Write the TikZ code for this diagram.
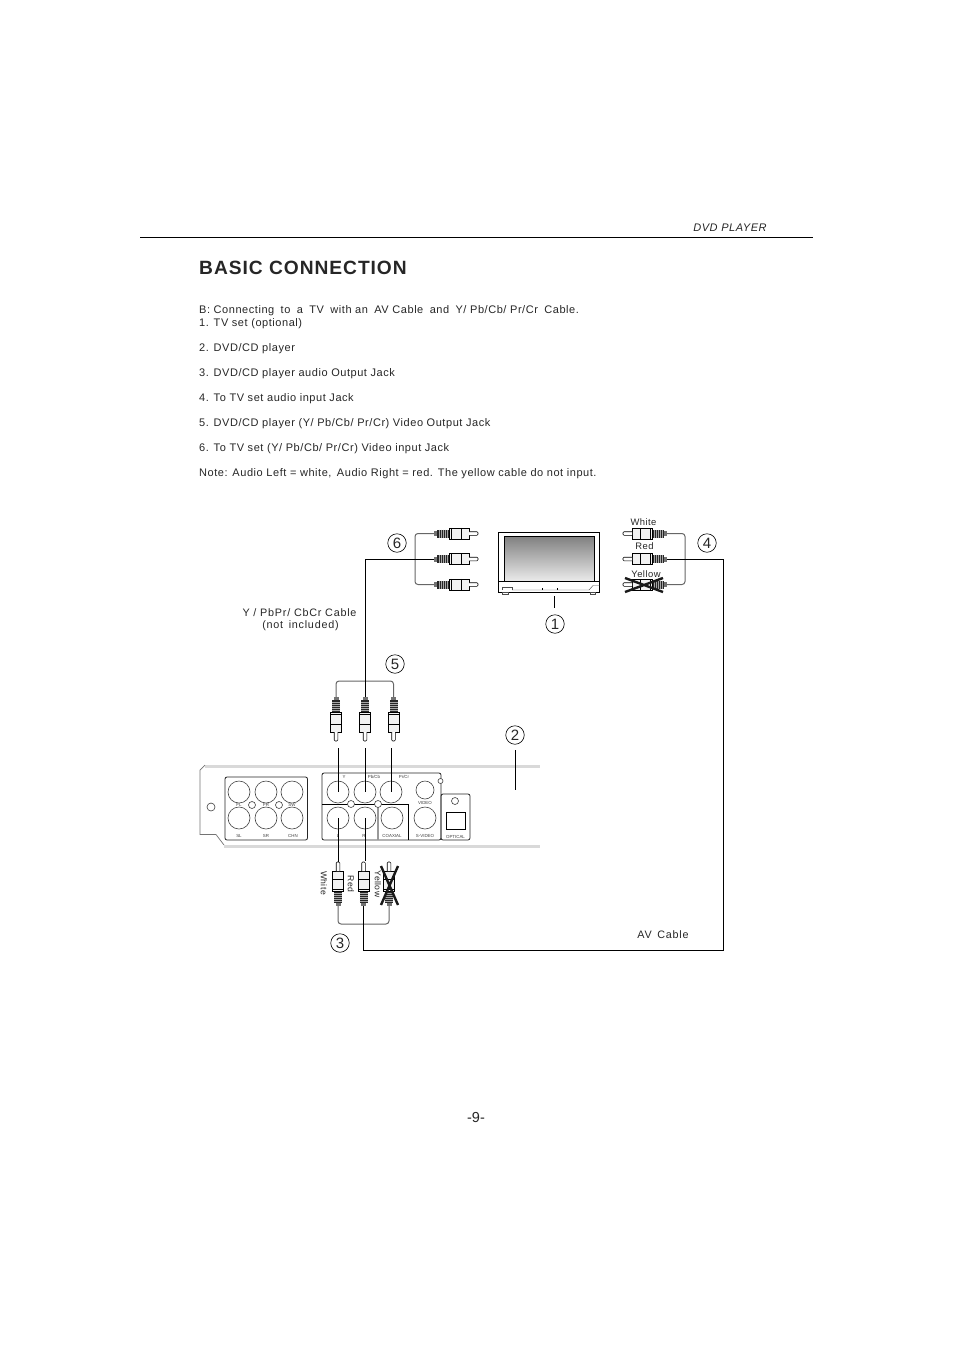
\documentclass[tikz,border=0pt]{standalone}
\usepackage{fontspec}
\setmainfont{Liberation Sans}
\newfontfamily\bodyfont[LetterSpace=5]{Liberation Sans}
\newfontfamily\capfont[LetterSpace=7]{Liberation Sans}
\newfontfamily\titlefont[LetterSpace=5]{Liberation Sans}
\newcommand\widegap{\kern2.8pt}
\tikzset{
  bodytext/.style={anchor=base west,inner sep=0pt,font=\bodyfont\fontsize{11}{12}\selectfont,text=black!85},
  captext/.style={inner sep=0pt,font=\capfont\fontsize{10.8}{12}\selectfont,text=black!85},
  labeltext/.style={inner sep=0pt,font=\bodyfont\fontsize{9.4}{11}\selectfont,text=black!85},
  sidetext/.style={inner sep=0pt,rotate=-90,font=\bodyfont\fontsize{8.6}{10}\selectfont,text=black!85},
  jacktext/.style={inner sep=0pt,font=\fontsize{4.4}{5}\selectfont,text=black!75},
  callout/.style={circle,draw,line width=.6pt,minimum size=18.5pt,inner sep=0pt,font=\fontsize{15}{16}\selectfont,text=black!85},
  wire/.style={line width=1pt},
  bus/.style={line width=1pt,draw=black!60,rounded corners=3pt},
  jack/.style={draw=black!75,line width=.6pt},
  block/.style={draw=black!85,line width=.8pt,rounded corners=2pt},
  chassis/.style={draw=black!15,line width=3pt},
  cross/.style={line width=2.4pt,draw=black!90},
  rca/.pic={
    % wire end of the plug is the origin, tip points along +x
    \coordinate (-wire) at (0,0);
    \fill[black!55] (0,-2.5) rectangle (3,2.5);
    \fill[black!85] (3,-4) rectangle (15,4);
    \foreach \ribx in {5,7,...,13} \draw[black!35,line width=.3pt] (\ribx,-4) -- (\ribx,4);
    \draw[line width=.6pt,fill=black!5] (15,-5.7) rectangle (35,5.7);
    \draw[line width=.45pt] (17,-5.7) -- (17,5.7) (27,-5.7) -- (27,5.7);
    \draw[line width=.6pt,fill=white,rounded corners=1pt] (35,-1.8) -- (44,-1.8) -- (44,1.8) -- (35,1.8);
    \coordinate (-tip) at (44,0);
  }
}
\begin{document}
\begin{tikzpicture}[x=1pt,y=-1pt]
\useasboundingbox (0,0) rectangle (954,1350);

% Page header
\node[inner sep=0pt,font=\bodyfont\itshape\fontsize{11}{12}\selectfont,text=black!85] (header) at (730,228) {DVD PLAYER};
\coordinate (ruleL) at (140,237.5);
\coordinate (ruleR) at (813,237.5);
\draw[line width=.8pt] (ruleL) -- (ruleR);
\node[anchor=base west,inner sep=0pt,font=\titlefont\bfseries\fontsize{19.2}{22}\selectfont,text=black!85] (title) at (199,274) {BASIC CONNECTION};

% Instructions
\node[bodytext] (lineB) at (199,313) {B: Connecting\widegap{} to\widegap{} a\widegap{} TV\widegap{} with an\widegap{} AV Cable\widegap{} and\widegap{} Y/ Pb/Cb/ Pr/Cr\widegap{} Cable.};
\node[bodytext] (lineA) at (199,326) {1. TV set (optional)};
\node[bodytext] (lineC) at (199,351) {2. DVD/CD player};
\node[bodytext] (lineD) at (199,376) {3. DVD/CD player audio Output Jack};
\node[bodytext] (lineE) at (199,401) {4. To TV set audio input Jack};
\node[bodytext] (lineF) at (199,426) {5. DVD/CD player (Y/ Pb/Cb/ Pr/Cr) Video Output Jack};
\node[bodytext] (lineG) at (199,451) {6. To TV set (Y/ Pb/Cb/ Pr/Cr) Video input Jack};
\node[bodytext] (lineH) at (199,476) {Note: Audio Left = white,\, Audio Right = red. The yellow cable do not input.};

% TV set
\draw[line width=.9pt] (498.5,532) rectangle (599.5,592);
\shade[top color=black!50,bottom color=black!8,draw=black,line width=.7pt] (504,536) rectangle (594,581);
\draw[line width=.6pt] (498.5,581) -- (599.5,581);
\draw[line width=.4pt,draw=black!70] (512,590) -- (589,590) -- (593,585.5) -- (599.5,585.5);
\draw[line width=.4pt,draw=black!70] (502,590) -- (502,587.5) -- (512,587.5) -- (512,590);
\draw[line width=.5pt] (542,588) -- (542,590) (557,588) -- (557,590);
\draw[line width=.5pt,draw=black!70] (502,592) rectangle (508,594) (590,592) rectangle (595,594);

% Plugs at the TV
\pic (inA) at (434,533.5) {rca};
\pic (inB) at (434,559) {rca};
\pic (inC) at (434,584.5) {rca};
\pic[rotate=180] (outA) at (667,533.5) {rca};
\pic[rotate=180] (outB) at (667,559) {rca};
\pic[rotate=180] (outC) at (667,584.5) {rca};
\draw[cross] (625,578) -- (663,592) (625,592) -- (663,578);

% Plugs at the player
\pic[rotate=-90] (vidA) at (336,697) {rca};
\pic[rotate=-90] (vidB) at (365,697) {rca};
\pic[rotate=-90] (vidC) at (393.5,697) {rca};
\pic[rotate=90] (audA) at (338,906) {rca};
\pic[rotate=90] (audB) at (363.5,906) {rca};
\pic[rotate=90] (audC) at (389,906) {rca};
\draw[cross] (381,866) -- (398,905) (398,866) -- (381,905);

% Cables
\draw[bus] (inA-wire) -| (415,559) |- (inC-wire);
\draw[bus] (outA-wire) -| (685,559) |- (outC-wire);
\draw[bus] (vidA-wire) |- (365,681) -| (vidC-wire);
\draw[bus] (audA-wire) |- (363.5,924) -| (audC-wire);
\draw[wire] (inB-wire) -| (vidB-wire);
\draw[wire] (outB-wire) -| (723.5,950.5) -| (audB-wire);

% Player chassis
\draw[chassis] (205,766) -- (540,766);
\draw[chassis] (224,846) -- (540,846);
\draw[line width=.7pt,draw=black!55] (205,765) -- (200,770) -- (200,834.5) -- (216,834.5) -- (224,845);
\draw[jack] (211,807) circle (4);

% Surround outputs
\draw[block] (225,777) rectangle (307.5,840);
\foreach \jackx in {239,266,292} {
  \draw[jack] (\jackx,792) circle (11);
  \draw[jack] (\jackx,818) circle (11);
}
\draw[jack] (252,805) circle (3.5) (279,805) circle (3.5);
\node[jacktext] (labFL) at (239,805) {FL};
\node[jacktext] (labFR) at (266,805) {FR};
\node[jacktext] (labSW) at (292,805) {SW};
\node[jacktext] (labSL) at (239,836) {SL};
\node[jacktext] (labSR) at (266,836) {SR};
\node[jacktext] (labCN) at (293,836) {CHN};

% Video and audio outputs
\draw[block] (322,773) rectangle (441,840);
\draw[line width=.7pt] (322,804) -- (408,804) -- (408,840);
\draw[draw=black!40,line width=1.3pt] (378,804) -- (378,840);
\foreach \jackx in {338,365,391} \draw[jack] (\jackx,792) circle (11);
\foreach \jackx in {338,365,392,425} \draw[jack] (\jackx,818) circle (11);
\draw[jack] (425,790) circle (9);
\draw[jack,fill=white] (351,804) circle (3.5) (378,804) circle (3.5) (440.5,781) circle (2.5);
\node[jacktext] (labY) at (344,777) {Y};
\node[jacktext] (labPb) at (374,777) {Pb/Cb};
\node[jacktext] (labPr) at (404,777) {Pr/Cr};
\node[jacktext] (labVid) at (425,803) {VIDEO};
\node[jacktext] (labL) at (338,836) {L};
\node[jacktext] (labR) at (364,836) {R};
\node[jacktext] (labCo) at (392,836) {COAXIAL};
\node[jacktext] (labSv) at (425,836) {S-VIDEO};

% Optical output
\draw[block] (441,794) rectangle (470,840);
\draw[jack] (455,801) circle (3.5);
\draw[line width=.7pt] (446,812) rectangle (465,829);
\node[jacktext] (labOp) at (455.5,836.5) {OPTICAL};

% Leads into the jacks
\coordinate (leadA) at (338,748);
\coordinate (leadB) at (365.5,748);
\coordinate (leadC) at (391,748);
\draw[wire] (leadA) -- (338,792);
\draw[wire] (leadB) -- (365.5,792);
\draw[wire] (leadC) -- (391,792);
\draw[wire] (338,818) -- (audA-tip);
\draw[wire] (365,818) -- (365,861);

% Callouts
\node[callout] (numA) at (555,624) {1};
\node[callout] (numB) at (515,735) {2};
\node[callout] (numC) at (340,943) {3};
\node[callout] (numD) at (707,543) {4};
\node[callout] (numE) at (395,664) {5};
\node[callout] (numF) at (397,543) {6};
\coordinate (tvLead) at (554.5,596);
\coordinate (tvLeadB) at (554.5,608);
\coordinate (boxLead) at (515.5,750);
\coordinate (boxLeadB) at (515.5,790);
\draw[line width=.8pt] (tvLead) -- (tvLeadB);
\draw[line width=.8pt] (boxLead) -- (boxLeadB);

% Cable labels
\node[captext] (capA) at (299.5,613) {Y / PbPr/ CbCr Cable};
\node[captext] (capB) at (300.5,626) {(not\, included)};
\node[captext] (capC) at (663,935) {AV\, Cable};
\node[labeltext] (labWhite) at (643.5,522) {White};
\node[labeltext] (labRed) at (644.5,546) {Red};
\node[labeltext] (labYellow) at (646,574) {Yellow};
\node[sidetext] (labWhiteB) at (324,883) {White};
\node[sidetext] (labRedB) at (351,884) {Red};
\node[sidetext] (labYellowB) at (378,884) {Yellow};

% Page number
\node[inner sep=0pt,font=\fontsize{14.5}{16}\selectfont,text=black!85] (pageno) at (476,1117) {-9-};
\end{tikzpicture}
\end{document}
